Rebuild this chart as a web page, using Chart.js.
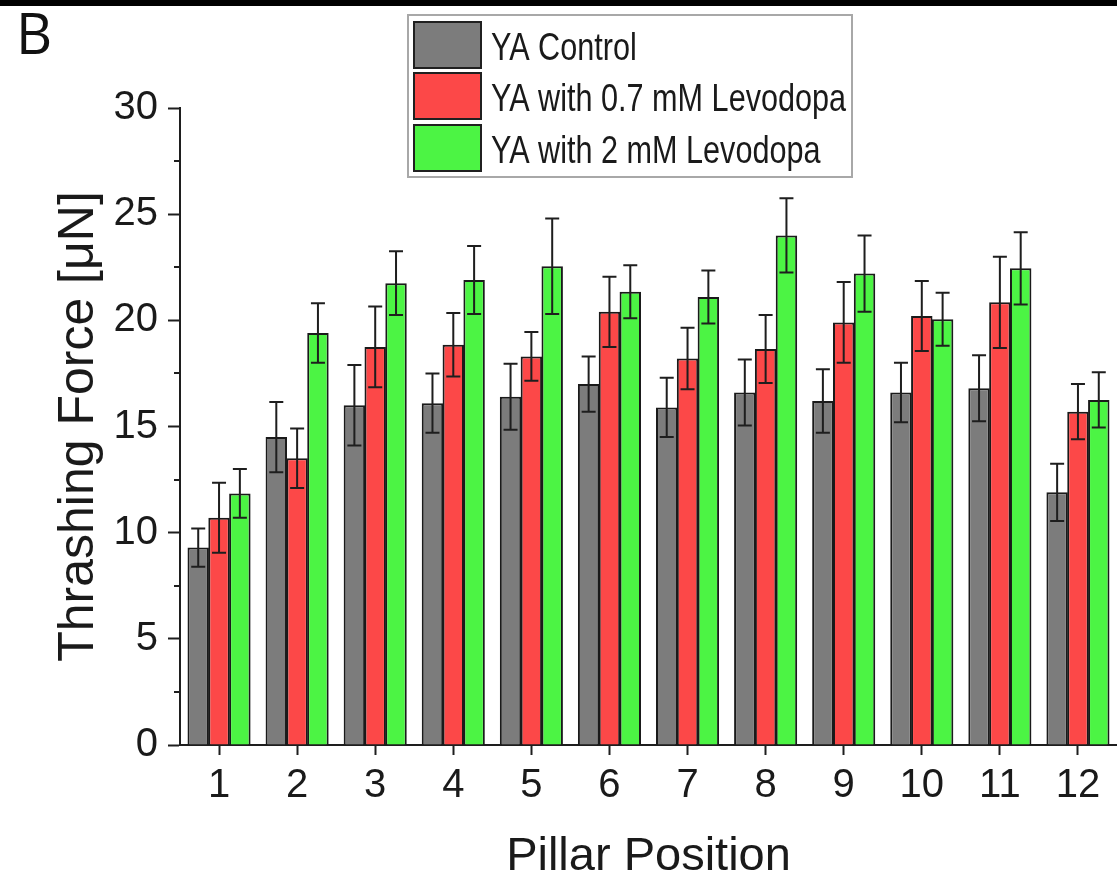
<!DOCTYPE html>
<html lang="en">
  <head>
    <meta charset="UTF-8" />
    <title>Thrashing Force</title>
    <script src="https://cdn.jsdelivr.net/npm/chart.js@4.4.1/dist/chart.umd.min.js"></script>
    <style>
      body { margin: 0; background: #ffffff; }
      #wrap { position: relative; width: 1117px; height: 876px; }
    </style>
  </head>
  <body>
    <div id="wrap"><canvas id="forceChart"></canvas></div>
    <script>
      // pillar positions and mean thrashing force (uN) with error bars
      var pillars = ["1", "2", "3", "4", "5", "6", "7", "8", "9", "10", "11", "12"];
      var seriesNames = ["YA Control", "YA with 0.7 mM Levodopa", "YA with 2 mM Levodopa"];
      var controlMeans = [9.3, 14.5, 16.0, 16.1, 16.4, 17.0, 15.9, 16.6, 16.2, 16.6, 16.8, 11.9];
      var controlErr = [0.9, 1.65, 1.9, 1.4, 1.55, 1.3, 1.4, 1.55, 1.5, 1.4, 1.55, 1.35];
      var lowDoseMeans = [10.7, 13.5, 18.75, 18.85, 18.3, 20.4, 18.2, 18.65, 19.9, 20.2, 20.85, 15.7];
      var lowDoseErr = [1.65, 1.4, 1.9, 1.5, 1.15, 1.65, 1.45, 1.6, 1.9, 1.65, 2.15, 1.3];
      var highDoseMeans = [11.85, 19.4, 21.75, 21.9, 22.55, 21.35, 21.1, 24.0, 22.2, 20.05, 22.45, 16.25];
      var highDoseErr = [1.15, 1.4, 1.5, 1.6, 2.25, 1.25, 1.25, 1.75, 1.8, 1.25, 1.7, 1.3];
      var yMin = 0, yMax = 30, yStep = 5, yMinorStep = 2.5;

      var barColors = ["#7c7c7c", "#fc4848", "#4cf444"];
      var inkColor = "#1e1e1e";
      var tickFont = { family: "'Liberation Sans', Arial, sans-serif", size: 40 };

      // error bars on top of every bar
      var errorBars = {
        id: "errorBars",
        afterDatasetsDraw: function (chart) {
          var ctx = chart.ctx;
          var y = chart.scales.y;
          ctx.save();
          ctx.strokeStyle = inkColor;
          ctx.lineWidth = 2;
          chart.data.datasets.forEach(function (ds, i) {
            var meta = chart.getDatasetMeta(i);
            meta.data.forEach(function (bar, j) {
              var v = ds.data[j], e = ds.errors[j];
              var top = y.getPixelForValue(v + e);
              var bot = y.getPixelForValue(v - e);
              ctx.beginPath();
              ctx.moveTo(bar.x, top); ctx.lineTo(bar.x, bot);
              ctx.moveTo(bar.x - 7, top); ctx.lineTo(bar.x + 7, top);
              ctx.moveTo(bar.x - 7, bot); ctx.lineTo(bar.x + 7, bot);
              ctx.stroke();
            });
          });
          ctx.restore();
        }
      };

      // minor ticks, legend box, panel letter and top rule
      var decorations = {
        id: "decorations",
        beforeDraw: function (chart) {
          var ctx = chart.ctx;
          ctx.save();
          ctx.fillStyle = "#ffffff";
          ctx.fillRect(0, 0, chart.width, chart.height);
          ctx.restore();
        },
        afterDraw: function (chart) {
          var ctx = chart.ctx;
          var y = chart.scales.y;
          ctx.save();
          // top rule
          ctx.fillStyle = "#000000";
          ctx.fillRect(0, 0, chart.width, 6);

          // minor ticks on the y axis
          ctx.strokeStyle = inkColor;
          ctx.lineWidth = 2;
          for (var v = yMin + yMinorStep; v < yMax; v += yStep) {
            var py = Math.round(y.getPixelForValue(v));
            ctx.beginPath();
            ctx.moveTo(y.right - 6, py);
            ctx.lineTo(y.right, py);
            ctx.stroke();
          }

          // panel letter
          ctx.fillStyle = "#111111";
          ctx.font = "56px 'Open Sans', sans-serif";
          ctx.textBaseline = "alphabetic";
          ctx.fillText("B", 16, 54);

          // legend
          var lx = 408, ly = 15, lw = 444, lh = 162;
          ctx.fillStyle = "#ffffff";
          ctx.fillRect(lx, ly, lw, lh);
          ctx.strokeStyle = "#a8a8a8";
          ctx.lineWidth = 2;
          ctx.strokeRect(lx, ly, lw, lh);
          var rowTop = [22, 73, 125];
          chart.data.datasets.forEach(function (ds, i) {
            ctx.fillStyle = ds.backgroundColor;
            ctx.fillRect(414, rowTop[i], 67, 46);
            ctx.strokeStyle = "#202020";
            ctx.lineWidth = 2;
            ctx.strokeRect(414, rowTop[i], 67, 46);
            ctx.save();
            ctx.translate(491, rowTop[i] + 38);
            ctx.scale(0.785, 1);
            ctx.fillStyle = "#1a1a1a";
            ctx.font = "39px 'Liberation Sans', Arial, sans-serif";
            ctx.textBaseline = "alphabetic";
            ctx.fillText(ds.label, 0, 0);
            ctx.restore();
          });
          ctx.restore();
        }
      };

      var meansList = [controlMeans, lowDoseMeans, highDoseMeans];
      var errList = [controlErr, lowDoseErr, highDoseErr];

      new Chart(document.getElementById("forceChart"), {
        type: "bar",
        data: {
          labels: pillars,
          datasets: seriesNames.map(function (name, i) {
            return {
              label: name,
              data: meansList[i],
              errors: errList[i],
              backgroundColor: barColors[i],
              borderColor: "#1a1a1a",
              borderWidth: 2,
              categoryPercentage: 0.8,
              barPercentage: 1.03
            };
          })
        },
        options: {
          responsive: true,
          maintainAspectRatio: false,
          animation: false,
          layout: { padding: { top: 108, left: 0, right: 0, bottom: 0 } },
          plugins: { legend: { display: false }, tooltip: { enabled: false } },
          scales: {
            x: {
              offset: true,
              afterFit: function (scale) { scale.height = 131; },
              grid: {
                offset: false,
                drawOnChartArea: false,
                tickLength: 10,
                tickWidth: 2,
                tickColor: inkColor
              },
              border: { color: inkColor, width: 2 },
              ticks: { color: "#1a1a1a", font: tickFont, padding: 7, maxRotation: 0 },
              title: {
                display: true,
                text: "Pillar Position",
                color: "#1a1a1a",
                font: { family: "'Liberation Sans', Arial, sans-serif", size: 47, lineHeight: 1 },
                padding: { top: 0, bottom: -5 }
              }
            },
            y: {
              min: yMin,
              max: yMax,
              afterFit: function (scale) { scale.width = 180; },
              grid: {
                drawOnChartArea: false,
                tickLength: 12,
                tickWidth: 2,
                tickColor: inkColor
              },
              border: { color: inkColor, width: 2 },
              ticks: { stepSize: yStep, color: "#1a1a1a", font: tickFont, padding: 10 },
              title: {
                display: true,
                text: "Thrashing Force [\u03bcN]",
                color: "#1a1a1a",
                font: { family: "'Liberation Sans', Arial, sans-serif", size: 50, lineHeight: 1 },
                padding: { top: 54, bottom: 0 }
              }
            }
          }
        },
        plugins: [errorBars, decorations]
      });
    </script>
  </body>
</html>
